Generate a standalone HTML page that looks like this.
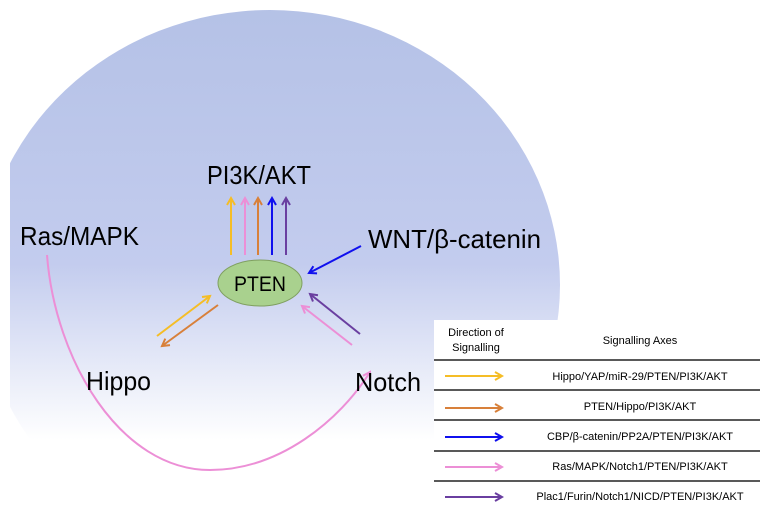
<!DOCTYPE html>
<html><head><style>
body{margin:0;background:#fff;}
svg{display:block;font-family:"Liberation Sans",sans-serif;}
</style></head><body>
<svg width="769" height="518" viewBox="0 0 769 518">
<defs>
<linearGradient id="gg" gradientUnits="userSpaceOnUse" x1="0" y1="0" x2="0" y2="440">
<stop offset="0" stop-color="#b4c1e6"/><stop offset="0.6" stop-color="#c3ccee"/><stop offset="1" stop-color="#ffffff"/>
</linearGradient>
<clipPath id="cp"><rect x="10" y="0" width="769" height="518"/></clipPath>
<marker id="a" viewBox="0 0 10 10" refX="8" refY="5" markerWidth="5" markerHeight="5" orient="auto"><path d="M1,1 L8,5 L1,9" fill="none" stroke="context-stroke" stroke-width="2"/></marker>
</defs>
<ellipse cx="270" cy="285" rx="290" ry="275" fill="url(#gg)" clip-path="url(#cp)"/>
<g stroke-width="2" fill="none" marker-end="url(#a)">
<line x1="231" y1="255" x2="231" y2="198" stroke="#f5bd26"/>
<line x1="245" y1="255" x2="245" y2="198" stroke="#ec8fd6"/>
<line x1="258" y1="255" x2="258" y2="198" stroke="#d8803a"/>
<line x1="272" y1="255" x2="272" y2="198" stroke="#1010ee"/>
<line x1="286" y1="255" x2="286" y2="198" stroke="#6a3fa0"/>
<line x1="361" y1="246" x2="309" y2="273" stroke="#1010ee"/>
<line x1="157" y1="336" x2="210" y2="296" stroke="#f5bd26"/>
<line x1="218" y1="305" x2="162" y2="346" stroke="#d8803a"/>
<line x1="352" y1="345" x2="302" y2="306" stroke="#ec8fd6"/>
<line x1="360" y1="334" x2="310" y2="294" stroke="#6a3fa0"/>
<path d="M47,255 C55,360 120,470 210,470 C280,470 340,420 370,372" stroke="#ec8fd6"/>
</g>
<ellipse cx="260" cy="283" rx="42" ry="23" fill="#a9d18e" stroke="#7f9f60"/>
<text x="260" y="291" text-anchor="middle" font-size="21" textLength="52" lengthAdjust="spacingAndGlyphs">PTEN</text>
<g font-size="26" fill="#000">
<text x="207" y="184" textLength="104" lengthAdjust="spacingAndGlyphs">PI3K/AKT</text>
<text x="20" y="245" textLength="119" lengthAdjust="spacingAndGlyphs">Ras/MAPK</text>
<text x="368" y="248" textLength="173" lengthAdjust="spacingAndGlyphs">WNT/β-catenin</text>
<text x="86" y="390" textLength="65" lengthAdjust="spacingAndGlyphs">Hippo</text>
<text x="355" y="391" textLength="66" lengthAdjust="spacingAndGlyphs">Notch</text>
</g>
<rect x="434" y="320" width="335" height="198" fill="#fff"/>
<g font-size="11" fill="#000" text-anchor="middle">
<text x="476" y="336">Direction of</text>
<text x="476" y="351">Signalling</text>
<text x="640" y="344">Signalling Axes</text>
<text x="640" y="380">Hippo/YAP/miR-29/PTEN/PI3K/AKT</text>
<text x="640" y="410">PTEN/Hippo/PI3K/AKT</text>
<text x="640" y="440">CBP/β-catenin/PP2A/PTEN/PI3K/AKT</text>
<text x="640" y="470">Ras/MAPK/Notch1/PTEN/PI3K/AKT</text>
<text x="640" y="500">Plac1/Furin/Notch1/NICD/PTEN/PI3K/AKT</text>
</g>
<g stroke="#222" stroke-width="1.5">
<line x1="434" y1="360" x2="760" y2="360"/>
<line x1="434" y1="390" x2="760" y2="390"/>
<line x1="434" y1="420" x2="760" y2="420"/>
<line x1="434" y1="451" x2="760" y2="451"/>
<line x1="434" y1="481" x2="760" y2="481"/>
</g>
<g stroke-width="2" marker-end="url(#a)">
<line x1="445" y1="376" x2="502" y2="376" stroke="#f5bd26"/>
<line x1="445" y1="408" x2="502" y2="408" stroke="#d8803a"/>
<line x1="445" y1="437" x2="502" y2="437" stroke="#1010ee"/>
<line x1="445" y1="467" x2="502" y2="467" stroke="#ec8fd6"/>
<line x1="445" y1="497" x2="502" y2="497" stroke="#6a3fa0"/>
</g>
</svg>
</body></html>
